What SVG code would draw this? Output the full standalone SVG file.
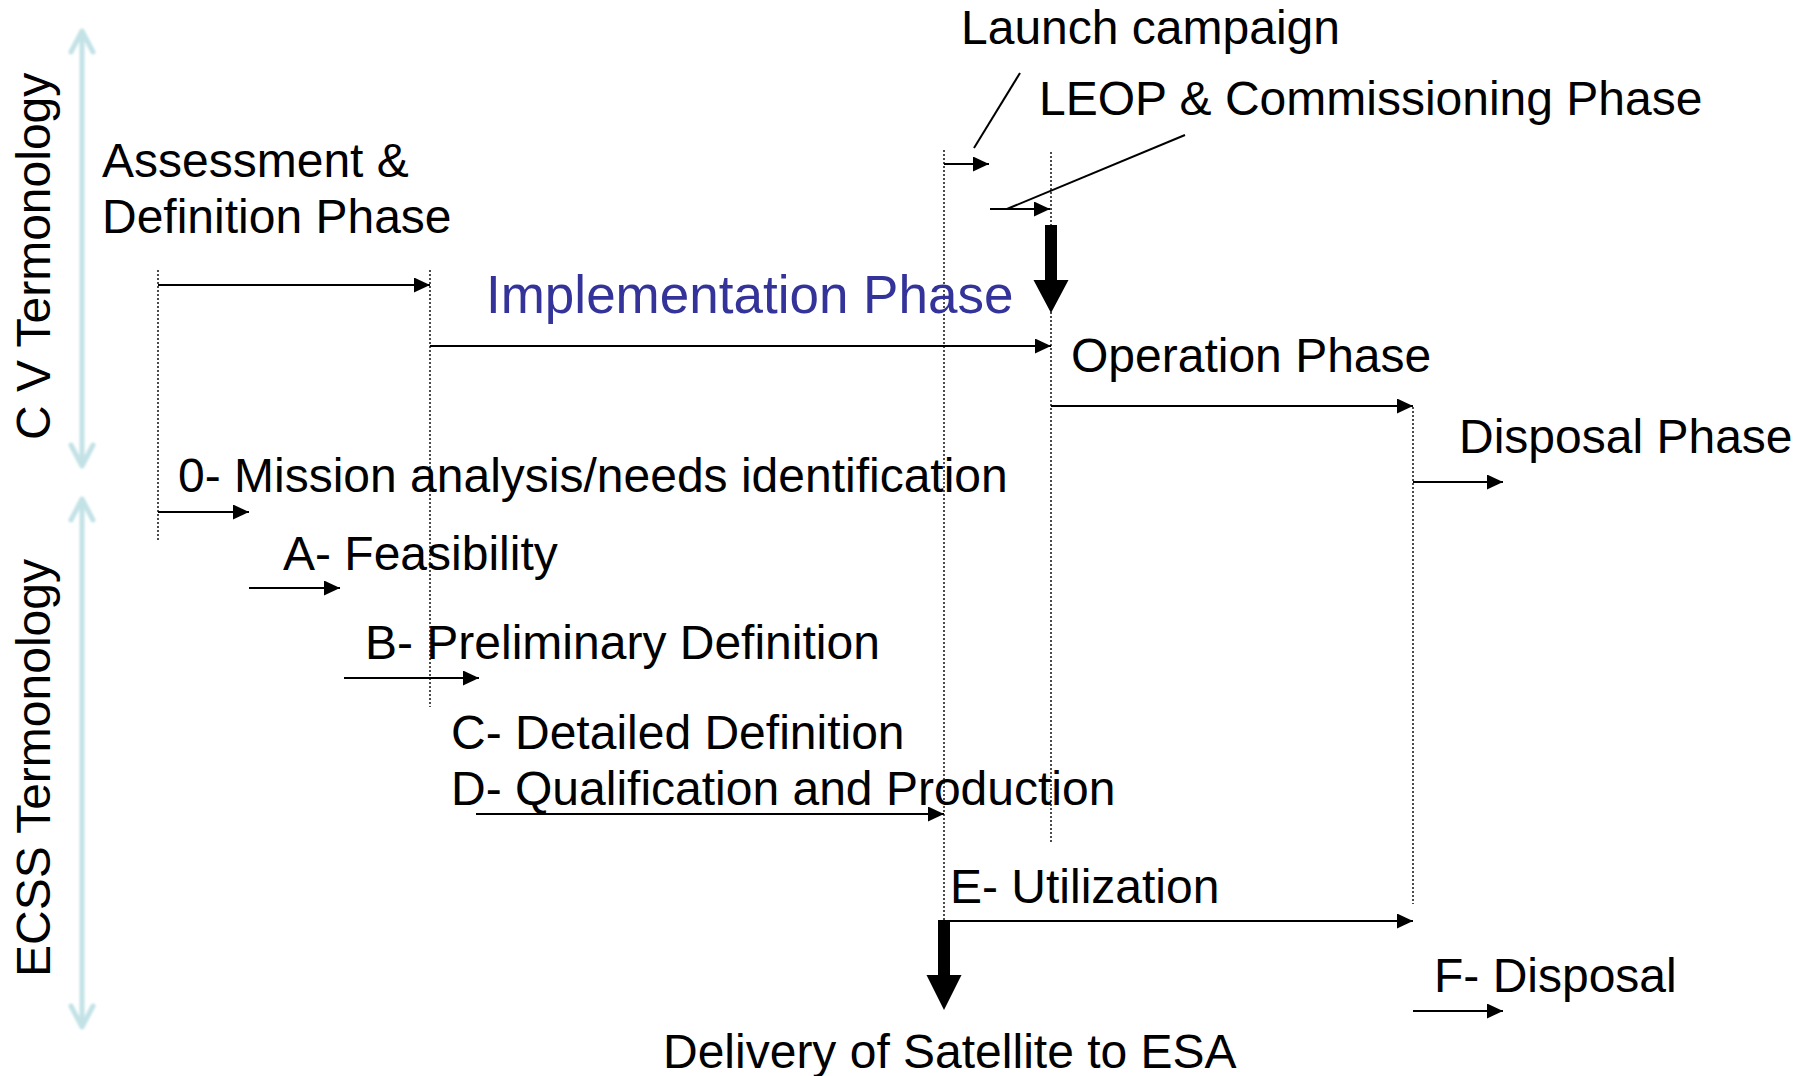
<svg xmlns="http://www.w3.org/2000/svg" width="1804" height="1076" viewBox="0 0 1804 1076">
  <style>
    .t { font-family: "Liberation Sans", Arial, sans-serif; font-size: 48px; fill: #000; }
    .blue { fill: #333399; font-size: 53px; }
    .dot { stroke: #111; stroke-width: 1.5; stroke-dasharray: 2 2; fill: none; }
    .arr { stroke: #000; stroke-width: 2; fill: none; marker-end: url(#head); }
    .lead { stroke: #000; stroke-width: 2; fill: none; }
    .teal { stroke: #c3e2e6; stroke-width: 5; fill: none; stroke-linecap: round; stroke-linejoin: round; }
    .thick { fill: #000; }
  </style>
  <defs>
    <marker id="head" markerUnits="userSpaceOnUse" markerWidth="18" markerHeight="16" refX="16" refY="7.5" orient="auto">
      <path d="M0,0 L16,7.5 L0,15 Z" fill="#000"/>
    </marker>
    <filter id="soft" x="-50%" y="-5%" width="200%" height="110%">
      <feGaussianBlur stdDeviation="0.8"/>
    </filter>
  </defs>

  <!-- side scale arrows -->
  <g id="cv-scale">
    <g class="teal" filter="url(#soft)">
      <line x1="82" y1="32" x2="82" y2="464"/>
      <polyline points="71,52 82,31 93,52"/>
      <polyline points="71,445 82,466 93,445"/>
    </g>
    <text class="t" transform="translate(50,440) rotate(-90)">C V Termonology</text>
  </g>
  <g id="ecss-scale">
    <g class="teal" filter="url(#soft)">
      <line x1="82" y1="500" x2="82" y2="1024"/>
      <polyline points="71,520 82,499 93,520"/>
      <polyline points="71,1006 82,1027 93,1006"/>
    </g>
    <text class="t" transform="translate(50,977) rotate(-90)">ECSS Termonology</text>
  </g>

  <!-- milestone guides -->
  <g id="guides">
    <line class="dot" x1="158" y1="270" x2="158" y2="540"/>
    <line class="dot" x1="430" y1="270" x2="430" y2="707"/>
    <line class="dot" x1="944" y1="150" x2="944" y2="920"/>
    <line class="dot" x1="1051" y1="152" x2="1051" y2="844"/>
    <line class="dot" x1="1413" y1="407" x2="1413" y2="904"/>
  </g>

  <!-- phase labels -->
  <g id="assessment"><text class="t" x="102" y="177">Assessment &amp;</text><text class="t" x="102" y="233">Definition Phase</text></g>
  <g id="implementation"><text class="t blue" x="486" y="313">Implementation Phase</text></g>
  <g id="launch"><text class="t" x="961" y="44">Launch campaign</text></g>
  <g id="leop"><text class="t" x="1039" y="115">LEOP &amp; Commissioning Phase</text></g>
  <g id="operation"><text class="t" x="1071" y="372">Operation Phase</text></g>
  <g id="disposal-phase"><text class="t" x="1459" y="453">Disposal Phase</text></g>
  <g id="phase-0"><text class="t" x="178" y="492">0- Mission analysis/needs identification</text></g>
  <g id="phase-a"><text class="t" x="283" y="570">A- Feasibility</text></g>
  <g id="phase-b"><text class="t" x="365" y="659">B- Preliminary Definition</text></g>
  <g id="phase-c"><text class="t" x="451" y="749">C- Detailed Definition</text></g>
  <g id="phase-d"><text class="t" x="451" y="805">D- Qualification and Production</text></g>
  <g id="phase-e"><text class="t" x="950" y="903">E- Utilization</text></g>
  <g id="phase-f"><text class="t" x="1434" y="992">F- Disposal</text></g>
  <g id="delivery"><text class="t" x="663" y="1068">Delivery of Satellite to ESA</text></g>

  <!-- connectors -->
  <g id="connectors">
    <line class="arr" x1="158" y1="285" x2="430" y2="285"/>
    <line class="arr" x1="430" y1="346" x2="1051" y2="346"/>
    <line class="arr" x1="1051" y1="406" x2="1413" y2="406"/>
    <line class="arr" x1="1413" y1="482" x2="1503" y2="482"/>
    <line class="arr" x1="158" y1="512" x2="249" y2="512"/>
    <line class="arr" x1="249" y1="588" x2="340" y2="588"/>
    <line class="arr" x1="344" y1="678" x2="479" y2="678"/>
    <line class="arr" x1="476" y1="814" x2="944" y2="814"/>
    <line class="arr" x1="944" y1="921" x2="1413" y2="921"/>
    <line class="arr" x1="1413" y1="1011" x2="1503" y2="1011"/>
    <line class="arr" x1="944" y1="164" x2="989" y2="164"/>
    <line class="arr" x1="990" y1="209" x2="1050" y2="209"/>
    <line class="lead" x1="1020" y1="73" x2="974" y2="148"/>
    <line class="lead" x1="1185" y1="135" x2="1007" y2="209"/>
    <!-- heavy milestone arrows -->
    <path class="thick" d="M1045,225 H1057 V280 H1068.5 L1051,313 L1033.5,280 H1045 Z"/>
    <path class="thick" d="M938,920 H950 V975 H961.5 L944,1010 L926.5,975 H938 Z"/>
  </g>
</svg>
